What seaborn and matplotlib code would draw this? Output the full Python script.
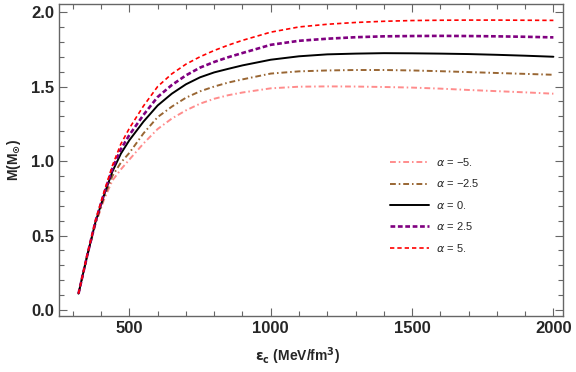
import matplotlib
matplotlib.use("Agg")
import matplotlib.pyplot as plt
from matplotlib.ticker import MultipleLocator
import pandas as pd
import seaborn as sns

# central energy density (MeV/fm^3)
eps_c = [320, 350, 380, 410, 440, 470, 500, 550, 600, 650, 700, 750, 800, 850, 900, 1000,
         1100, 1200, 1300, 1400, 1500, 1600, 1700, 1800, 1900, 2000]

# mass (solar masses) for each alpha
m_a_m5 = [0.11, 0.355, 0.575, 0.74, 0.87, 0.944, 1.01, 1.118, 1.215, 1.285, 1.34, 1.385, 1.418,
          1.442, 1.46, 1.488, 1.499, 1.501, 1.50, 1.497, 1.493, 1.486, 1.477, 1.469, 1.461, 1.452]
m_a_m25 = [0.11, 0.357, 0.58, 0.755, 0.90, 0.99, 1.055, 1.186, 1.295, 1.365, 1.425, 1.468, 1.50,
           1.527, 1.548, 1.587, 1.602, 1.608, 1.611, 1.611, 1.608, 1.603, 1.597, 1.591, 1.585, 1.579]
m_a_0 = [0.11, 0.36, 0.59, 0.77, 0.93, 1.05, 1.14, 1.265, 1.373, 1.452, 1.515, 1.562, 1.595,
         1.619, 1.642, 1.68, 1.703, 1.716, 1.721, 1.724, 1.723, 1.721, 1.718, 1.713, 1.707, 1.70]
m_a_25 = [0.11, 0.36, 0.595, 0.78, 0.95, 1.08, 1.175, 1.31, 1.43, 1.51, 1.575, 1.627, 1.665,
          1.697, 1.725, 1.78, 1.807, 1.821, 1.831, 1.837, 1.839, 1.84, 1.839, 1.837, 1.834, 1.83]
m_a_5 = [0.11, 0.365, 0.60, 0.79, 0.97, 1.115, 1.22, 1.37, 1.50, 1.585, 1.65, 1.70, 1.742,
         1.778, 1.81, 1.865, 1.90, 1.918, 1.93, 1.938, 1.943, 1.945, 1.946, 1.946, 1.945, 1.944]

labels = ["$\\alpha$ = \u22125.", "$\\alpha$ = \u22122.5", "$\\alpha$ = 0.",
          "$\\alpha$ = 2.5", "$\\alpha$ = 5."]

sns.set_style("white")
plt.rcParams['font.family'] = ['Liberation Sans', 'DejaVu Sans']
plt.rcParams['mathtext.fontset'] = 'dejavusans'

fig = plt.figure(figsize=(5.76, 3.72), dpi=100)
ax = fig.add_axes([59 / 576, 1 - 316 / 372, (563 - 59) / 576, (316 - 4) / 372])

# styles: (color, linewidth, linestyle)
styles = [
    ("#ff8c8c", 1.4, (0, (3, 1.5, 0.8, 1.5))),
    ("#996633", 1.4, (0, (3, 1.5, 0.8, 1.5))),
    ("black", 1.4, "-"),
    ("#800080", 1.9, (0, (1.8, 1.0))),
    ("#ff0000", 1.2, (0, (2.6, 1.8))),
]
series = [m_a_m5, m_a_m25, m_a_0, m_a_25, m_a_5]

for vals, lab, (col, lw, ls) in zip(series, labels, styles):
    df = pd.DataFrame({"eps": eps_c, "M": vals})
    sns.lineplot(data=df, x="eps", y="M", ax=ax, color=col, lw=lw,
                 linestyle=ls, label=lab)

ax.set_xlim(251, 2034)
ax.set_ylim(-0.04, 2.054)
ax.xaxis.set_major_locator(MultipleLocator(500))
ax.xaxis.set_minor_locator(MultipleLocator(100))
ax.yaxis.set_major_locator(MultipleLocator(0.5))
ax.yaxis.set_minor_locator(MultipleLocator(0.1))
ax.set_yticks([0.0, 0.5, 1.0, 1.5, 2.0])
ax.set_yticklabels(["0.0", "0.5", "1.0", "1.5", "2.0"])

ax.tick_params(which="both", direction="in", top=True, right=True,
               bottom=True, left=True, color="#666666", labelsize=12)
ax.tick_params(which="major", length=6, width=0.8)
ax.tick_params(which="minor", length=3.5, width=0.8)
for lbl in ax.get_xticklabels() + ax.get_yticklabels():
    lbl.set_fontweight("bold")
for sp in ax.spines.values():
    sp.set_color("#666666")
    sp.set_linewidth(1.0)

ax.set_xlabel(r"$\mathbf{\epsilon_c}$ (MeV/fm$^\mathbf{3}$)", fontsize=10,
              fontweight="bold")
ax.xaxis.set_label_coords(0.474, -0.095)
ax.set_ylabel(r"M(M$_\mathbf{\odot}$)", fontsize=10, fontweight="bold", labelpad=6)

ax.legend(loc="upper left", bbox_to_anchor=(390 / 576, 1 - 156 / 372),
          bbox_transform=fig.transFigure, frameon=False, fontsize=8,
          handlelength=3.5, handletextpad=0.6, labelspacing=0.85,
          borderpad=0, borderaxespad=0)

fig.savefig("out.png", dpi=100)
